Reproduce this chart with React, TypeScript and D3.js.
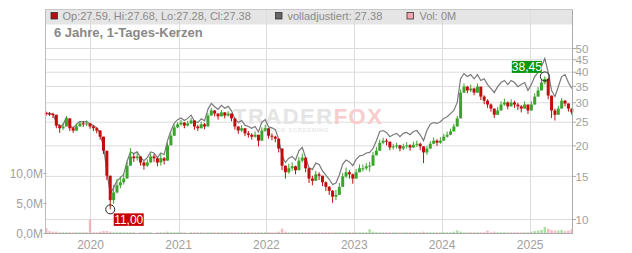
import React from "react";
import * as d3 from "d3";

// ---------- DATA (2-week steps) ----------
const startDate = new Date(2019, 6, 1);
const stepDays = 14;

const closes = [
  27.1, 27.0, 26.8, 24.2, 23.6, 24.0, 25.9, 23.6, 23.1, 24.0,
  24.7, 24.5, 24.7, 24.0, 23.6, 23.1, 21.8, 19.1, 15.1, 12.0,
  12.9, 13.8, 14.2, 14.7, 16.6, 18.1, 17.8, 18.1, 17.1, 16.6,
  17.1, 18.1, 17.8, 17.1, 17.8, 17.4, 20.1, 22.0, 23.8, 24.5,
  24.9, 24.2, 24.7, 25.4, 24.0, 23.6, 24.5, 24.0, 26.6, 27.9,
  27.1, 26.4, 27.4, 26.6, 27.1, 25.9, 24.0, 23.1, 23.6, 22.5,
  22.2, 21.8, 22.2, 21.0, 23.1, 23.6, 22.0, 21.8, 21.4, 19.5,
  16.6, 15.6, 16.2, 16.5, 15.9, 17.4, 17.9, 16.2, 14.7, 14.4,
  15.3, 15.1, 14.2, 13.6, 13.1, 12.4, 12.6, 13.6, 15.0, 15.6,
  15.3, 14.7, 15.6, 16.2, 16.2, 16.5, 16.6, 18.3, 19.1, 20.6,
  21.0, 20.8, 19.7, 19.9, 20.1, 19.5, 19.9, 20.1, 19.7, 20.2,
  20.4, 19.9, 18.8, 19.5, 20.4, 21.0, 20.6, 21.0, 21.8, 22.2,
  22.9, 24.0, 25.9, 33.0, 34.9, 33.7, 34.3, 33.0, 34.9, 31.8,
  30.6, 29.5, 28.4, 26.8, 27.9, 29.5, 30.1, 29.0, 30.1, 29.5,
  29.0, 28.4, 29.5, 27.9, 29.5, 31.8, 33.7, 36.3, 37.6, 32.1,
  27.9, 26.8, 28.4, 30.6, 29.8, 28.4, 27.4,
];

const highs = [
  27.6, 27.5, 27.3, 26.8, 24.5, 24.8, 26.4, 25.9, 24.0, 24.6,
  25.2, 25.3, 25.4, 24.8, 24.3, 23.8, 23.2, 21.8, 19.1, 15.1,
  13.8, 14.6, 15.0, 15.4, 17.2, 19.6, 18.6, 18.8, 18.1, 17.3,
  17.6, 18.6, 18.5, 17.9, 18.6, 18.0, 20.6, 22.6, 24.4, 25.0,
  25.5, 25.0, 25.3, 26.0, 25.4, 24.4, 25.1, 24.8, 27.2, 28.6,
  28.0, 27.2, 28.0, 27.5, 27.7, 27.1, 25.9, 24.0, 24.3, 23.6,
  23.0, 22.5, 22.9, 22.2, 23.8, 24.4, 23.6, 22.5, 22.0, 21.4,
  19.5, 16.6, 16.9, 17.1, 16.6, 18.0, 18.6, 17.9, 16.2, 15.1,
  15.8, 15.6, 15.1, 14.3, 13.7, 13.2, 13.2, 14.1, 15.5, 16.3,
  15.9, 15.4, 16.1, 16.8, 16.8, 17.0, 17.2, 18.9, 19.8, 21.2,
  21.6, 21.4, 20.8, 20.4, 20.6, 20.2, 20.4, 20.7, 20.3, 20.8,
  21.0, 20.6, 19.9, 20.0, 20.9, 21.6, 21.3, 21.7, 22.4, 22.9,
  23.5, 24.6, 26.5, 34.0, 36.0, 35.2, 35.6, 34.6, 36.0, 34.9,
  32.2, 31.0, 29.8, 28.4, 28.8, 30.4, 31.2, 30.4, 31.0, 30.6,
  30.0, 29.4, 30.4, 29.5, 30.4, 32.8, 34.8, 37.5, 38.45, 37.6,
  32.1, 28.4, 29.2, 31.4, 30.8, 29.8, 28.4,
];

const lows = [
  26.6, 26.5, 26.0, 23.6, 22.6, 23.2, 24.0, 23.0, 22.6, 23.0,
  24.0, 23.9, 24.1, 23.5, 23.0, 22.5, 21.2, 18.5, 14.5, 11.0,
  11.6, 12.8, 13.4, 13.9, 14.7, 16.6, 17.2, 17.4, 16.6, 16.0,
  16.4, 17.1, 17.2, 16.5, 16.6, 16.8, 17.4, 20.1, 22.0, 23.6,
  24.2, 23.6, 24.0, 24.6, 23.3, 23.0, 23.6, 23.4, 24.0, 26.6,
  26.4, 25.6, 26.4, 25.9, 26.3, 25.2, 23.3, 22.4, 22.8, 21.9,
  21.6, 21.2, 21.6, 19.9, 21.0, 22.8, 21.4, 21.1, 20.7, 18.8,
  15.9, 14.7, 15.4, 15.8, 15.3, 15.9, 17.1, 15.6, 14.1, 13.8,
  14.4, 14.5, 13.7, 13.1, 12.6, 11.7, 12.0, 12.6, 13.6, 14.8,
  14.7, 14.0, 14.7, 15.6, 15.7, 15.9, 15.7, 16.6, 18.3, 19.1,
  20.3, 20.1, 19.2, 19.3, 19.5, 19.0, 19.2, 19.5, 19.1, 19.6,
  19.8, 19.2, 17.0, 18.4, 19.4, 20.3, 20.0, 20.4, 21.0, 21.6,
  22.1, 22.9, 24.0, 25.9, 33.0, 32.8, 33.2, 32.2, 33.0, 30.8,
  29.6, 28.6, 27.6, 26.0, 26.8, 27.9, 29.2, 28.2, 29.0, 28.6,
  28.0, 27.4, 28.4, 27.0, 27.9, 29.5, 31.8, 33.7, 35.6, 31.0,
  26.0, 25.4, 26.8, 28.4, 29.0, 27.6, 26.8,
];

const adjusted = [
  27.2, 27.1, 27.0, 24.9, 24.0, 24.4, 26.2, 24.2, 23.6, 24.5,
  25.2, 25.0, 25.2, 24.6, 24.2, 23.7, 22.4, 19.8, 15.8, 12.7,
  13.5, 14.4, 14.8, 15.3, 17.3, 18.9, 18.6, 18.9, 17.9, 17.4,
  17.9, 18.9, 18.7, 17.9, 18.7, 18.4, 21.0, 23.0, 24.8, 25.6,
  26.0, 25.4, 25.9, 26.7, 25.2, 24.9, 25.8, 25.3, 28.2, 29.8,
  28.9, 28.2, 29.3, 28.5, 29.0, 27.8, 25.8, 24.9, 25.4, 24.3,
  24.0, 23.6, 24.0, 22.8, 25.0, 25.6, 23.9, 23.7, 23.3, 21.3,
  18.2, 17.1, 17.8, 18.1, 17.5, 19.1, 19.7, 17.9, 16.3, 16.0,
  17.0, 16.8, 15.8, 15.2, 14.6, 13.9, 14.1, 15.2, 16.8, 17.5,
  17.2, 16.6, 17.6, 18.2, 18.3, 18.7, 18.8, 19.5, 21.0, 22.9,
  23.1, 22.7, 21.8, 22.2, 22.5, 21.8, 22.5, 22.7, 22.2, 22.9,
  23.1, 22.2, 21.0, 23.1, 24.5, 24.9, 24.7, 25.1, 25.9, 26.3,
  27.1, 27.9, 30.1, 37.6, 39.5, 38.4, 39.1, 37.6, 39.1, 37.0,
  37.6, 35.6, 34.3, 33.0, 34.9, 36.3, 37.0, 35.6, 37.0, 36.3,
  34.9, 35.6, 36.3, 33.7, 35.6, 38.4, 39.9, 42.2, 45.5, 39.9,
  33.7, 31.8, 34.9, 38.4, 39.1, 36.3, 34.3,
];

// volume in millions
const volumes = [
  0.9, 0.4, 0.3, 0.3, 0.2, 0.2, 0.2, 0.2, 0.2, 0.2,
  0.2, 0.2, 0.2, 2.3, 0.2, 0.2, 0.3, 0.4, 0.4, 0.3,
  0.2, 0.2, 0.2, 0.2, 0.2, 0.2, 0.2, 0.1, 0.2, 0.2,
  0.2, 0.2, 0.1, 0.2, 0.2, 0.2, 0.3, 0.2, 0.2, 0.2,
  0.2, 0.2, 0.1, 0.2, 0.2, 0.2, 0.2, 0.2, 0.2, 0.2,
  0.2, 0.2, 0.2, 0.2, 0.2, 0.2, 0.2, 0.2, 0.2, 0.2,
  0.2, 0.2, 0.2, 0.2, 0.2, 0.2, 0.2, 0.2, 0.2, 0.3,
  0.8, 0.3, 0.2, 0.2, 0.2, 0.2, 0.2, 0.2, 0.2, 0.2,
  0.2, 0.2, 0.2, 0.2, 0.2, 0.2, 0.2, 0.2, 0.2, 0.2,
  0.2, 0.2, 0.2, 0.2, 0.2, 0.2, 0.7, 0.3, 0.2, 0.2,
  0.2, 0.2, 0.2, 0.2, 0.2, 0.2, 0.2, 0.2, 0.2, 0.2,
  0.2, 0.2, 0.3, 0.2, 0.2, 0.2, 0.2, 0.2, 0.2, 0.2,
  0.2, 0.3, 0.5, 0.3, 0.2, 0.2, 0.2, 0.2, 0.2, 0.2,
  0.2, 0.5, 0.2, 0.3, 0.2, 0.2, 0.2, 0.2, 0.2, 0.2,
  0.2, 0.2, 0.2, 0.2, 0.3, 0.4, 0.5, 0.6, 1.1, 0.8,
  0.6, 0.5, 0.5, 0.6, 0.4, 0.5, 0.7,
];

const firstOpen = 27.2;
const priceTicks = [10, 15, 20, 25, 30, 35, 40, 45, 50];
const volumeTicks = [0, 5, 10];
const yearTicks = [2020, 2021, 2022, 2023, 2024, 2025];
const domainStart = new Date(2019, 5, 28);
const domainEnd = new Date(2025, 5, 26);

const ohlcText = "Op:27.59, Hi:27.68, Lo:27.28, Cl:27.38";
const adjText = "volladjustiert: 27.38";
const volText = "Vol: 0M";
const titleText = "6 Jahre, 1-Tages-Kerzen";

// ---------- LAYOUT ----------
const W = 632;
const H = 253;
const L = 45.5;
const R = 572.5;
const T = 9.5;
const B = 233.5;
const FONT = "'Liberation Sans', Arial, Helvetica, sans-serif";
const UP = "#3aa52a";
const DOWN = "#c00d0d";

export default function App() {
  const dates = closes.map((_, i) => d3.timeDay.offset(startDate, i * stepDays));
  const x = d3.scaleTime().domain([domainStart, domainEnd]).range([L, R]);
  const y = d3.scaleLog().domain([10, 50]).range([219.5, 48.5]);
  const yv = d3.scaleLinear().domain([0, 10]).range([B, 173.5]);
  const opens = closes.map((_, i) => (i === 0 ? firstOpen : closes[i - 1]));

  const adjLine = d3
    .line<number>()
    .x((_, i) => x(dates[i]))
    .y((d) => y(d))
    .curve(d3.curveLinear);

  const bodyW = 3.0;

  const maxI = d3.maxIndex(highs);
  const minI = d3.minIndex(lows);
  const maxX = x(dates[maxI]);
  const maxY = y(highs[maxI]);
  const minX = x(dates[minI]);
  const minY = y(lows[minI]);
  const fmt = (v: number) => v.toFixed(2).replace(".", ",");

  return (
    <div style={{ position: "fixed", left: 0, top: 0 }}>
      <svg width={W} height={H} style={{ display: "block", fontFamily: FONT }}>
        <rect x={0} y={0} width={W} height={H} fill="#fff" />
        {/* header band */}
        <rect x={L} y={T} width={R - L} height={15} fill="#e5e5e5" />

        {/* grid */}
        {priceTicks.map((p) => (
          <line key={"gp" + p} x1={L} x2={R} y1={y(p)} y2={y(p)} stroke="#dcdcdc" strokeWidth={1} />
        ))}
        {yearTicks.map((yr) => {
          const xx = Math.round(x(new Date(yr, 0, 1))) + 0.5;
          return <line key={"gy" + yr} x1={xx} x2={xx} y1={T} y2={B} stroke="#dcdcdc" strokeWidth={1} />;
        })}

        {/* watermark */}
        <text x={233} y={123.5} fontSize={22} fontWeight="bold" letterSpacing={1.5} fill="#e4e4e4">
          TRADER<tspan fill="#f6cccc">FOX</tspan>
        </text>
        <text x={262} y={132} fontSize={6} fontWeight="bold" letterSpacing={0.6} fill="#e8e8e8">
          STOCK SCREENING
        </text>

        {/* volume */}
        {volumes.map((v, i) => {
          const up = closes[i] >= opens[i];
          const xx = x(dates[i]);
          return (
            <rect
              key={"v" + i}
              x={xx - 1.2}
              y={yv(v)}
              width={2.4}
              height={B - yv(v)}
              fill={up ? "#8fd383" : "#f0a3ab"}
              opacity={0.75}
            />
          );
        })}

        {/* adjusted line */}
        <path d={adjLine(adjusted) || ""} fill="none" stroke="#7a7a7a" strokeWidth={1.2} />

        {/* candles */}
        {closes.map((c, i) => {
          const o = opens[i];
          const up = c >= o;
          const col = up ? UP : DOWN;
          const xx = x(dates[i]);
          const top = y(Math.max(o, c));
          const bot = y(Math.min(o, c));
          return (
            <g key={"c" + i}>
              <line x1={xx} x2={xx} y1={y(highs[i])} y2={y(lows[i])} stroke={col} strokeWidth={1} />
              <rect x={xx - bodyW / 2} y={top} width={bodyW} height={Math.max(1, bot - top)} fill={col} />
            </g>
          );
        })}

        {/* frame & axes */}
        <line x1={L} x2={R} y1={T} y2={T} stroke="#c8c8c8" />
        <line x1={L} x2={L} y1={T} y2={B} stroke="#bdbdbd" />
        <line x1={R} x2={R} y1={T} y2={B} stroke="#aaaaaa" />
        <line x1={L} x2={R} y1={B} y2={B} stroke="#aaaaaa" />

        {priceTicks.map((p) => (
          <g key={"tp" + p}>
            <line x1={R} x2={R + 3.5} y1={y(p)} y2={y(p)} stroke="#aaaaaa" />
            <text x={R + 3} y={y(p) + 4.2} fontSize={11.5} fill="#a0a0a0">
              {p}
            </text>
          </g>
        ))}
        {volumeTicks.map((v) => (
          <g key={"tv" + v}>
            <line x1={L - 2} x2={L + 1} y1={yv(v)} y2={yv(v)} stroke="#aaaaaa" />
            <text x={L - 2.5} y={yv(v) + 4.3} fontSize={12} fill="#a0a0a0" textAnchor="end">
              {v.toFixed(1).replace(".", ",") + "M"}
            </text>
          </g>
        ))}
        {yearTicks.map((yr) => (
          <text
            key={"ty" + yr}
            x={x(new Date(yr, 0, 1))}
            y={248.5}
            fontSize={12}
            fill="#a0a0a0"
            textAnchor="middle"
          >
            {yr}
          </text>
        ))}

        {/* legend */}
        <rect x={51} y={12.5} width={6.5} height={6.5} fill="#b01010" stroke="#333" strokeWidth={0.8} />
        <text x={62.5} y={20} fontSize={11} fill="#8a8a8a">
          {ohlcText}
        </text>
        <rect x={275.5} y={12.5} width={6.5} height={6.5} fill="#666" stroke="#333" strokeWidth={0.8} />
        <text x={287.5} y={20} fontSize={11} fill="#8a8a8a">
          {adjText}
        </text>
        <rect x={407} y={12.5} width={6.5} height={6.5} fill="#f2a7b0" stroke="#333" strokeWidth={0.8} />
        <text x={419.5} y={20} fontSize={11} fill="#8a8a8a">
          {volText}
        </text>

        {/* title */}
        <text x={54} y={37} fontSize={13} fontWeight="bold" fill="#888">
          {titleText}
        </text>

        {/* max marker */}
        <circle cx={maxX} cy={maxY} r={4.5} fill="none" stroke="#222" strokeWidth={1} />
        <rect x={maxX - 33} y={maxY - 15.5} width={30} height={12} fill="#0b960b" />
        <text x={maxX - 18} y={maxY - 5.4} fontSize={12} fill="#fff" textAnchor="middle">
          {fmt(highs[maxI])}
        </text>

        {/* min marker */}
        <circle cx={minX} cy={minY} r={4.5} fill="none" stroke="#222" strokeWidth={1} />
        <rect x={minX + 3.5} y={minY + 4} width={30} height={12.5} fill="#c80000" />
        <text x={minX + 18.5} y={minY + 14.4} fontSize={12} fill="#fff" textAnchor="middle">
          {fmt(lows[minI])}
        </text>
      </svg>
    </div>
  );
}
